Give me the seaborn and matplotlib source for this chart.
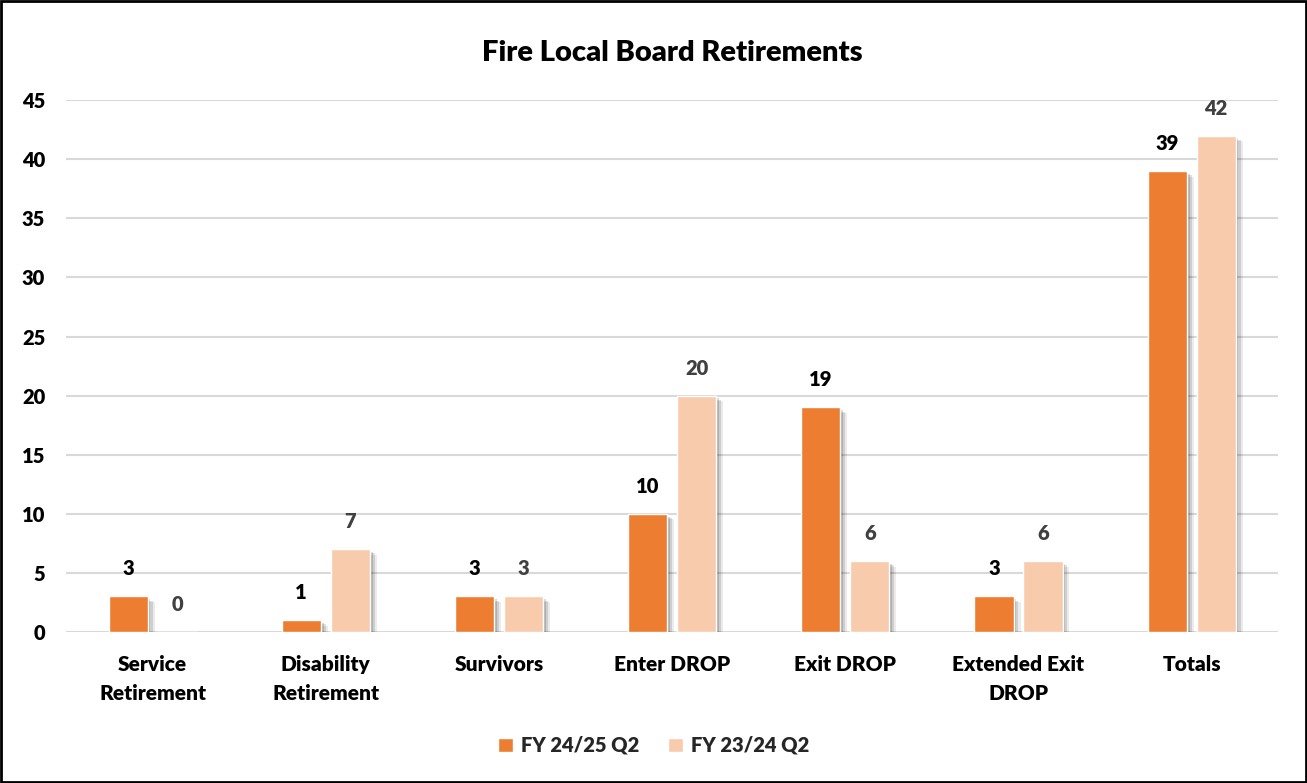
import matplotlib
matplotlib.use("Agg")
import matplotlib.pyplot as plt
import matplotlib.patheffects as pe
import seaborn as sns
import pandas as pd

categories = ["Service\nRetirement", "Disability\nRetirement", "Survivors", "Enter DROP",
              "Exit DROP", "Extended Exit\nDROP", "Totals"]
series_names = ["FY 24/25 Q2", "FY 23/24 Q2"]
fy2425 = [3, 1, 3, 10, 19, 3, 39]
fy2324 = [0, 7, 3, 20, 6, 6, 42]
y_ticks = [0, 5, 10, 15, 20, 25, 30, 35, 40, 45]

colors = ["#ED7D31", "#F8CBAD"]
label_colors = ["#000000", "#404040"]
W = "heavy"

df = pd.DataFrame({
    "category": categories * 2,
    "series": [series_names[0]] * len(categories) + [series_names[1]] * len(categories),
    "value": fy2425 + fy2324,
})

sns.set_theme(style="white")
plt.rcParams["font.family"] = ["Lato", "DejaVu Sans"]
plt.rcParams["font.weight"] = W

fig = plt.figure(figsize=(13.07, 7.83), dpi=100)
ax = fig.add_axes([0.0505, 0.193, 0.9275, 0.679])

sns.barplot(data=df, x="category", y="value", hue="series", order=categories,
            hue_order=series_names, palette=colors, width=0.565, gap=0.2,
            ax=ax, saturation=1, legend=True, zorder=3)

shadow = [pe.SimplePatchShadow(offset=(5, -4), shadow_rgbFace="black", alpha=0.08),
          pe.SimplePatchShadow(offset=(3.5, -3), shadow_rgbFace="black", alpha=0.12),
          pe.SimplePatchShadow(offset=(2, -2), shadow_rgbFace="black", alpha=0.15),
          pe.Normal()]
for p in ax.patches:
    if p.get_height() > 0:
        p.set_path_effects(shadow)

for i, cont in enumerate(ax.containers):
    ax.bar_label(cont, labels=[str(int(v)) for v in (fy2425 if i == 0 else fy2324)],
                 padding=13, fontsize=14.5, fontweight=W, color=label_colors[i])

ax.set_ylim(0, 45)
ax.set_xlim(-0.5, len(categories) - 0.5)
ax.set_yticks(y_ticks)
ax.set_yticklabels([str(t) for t in y_ticks], fontsize=14.5, fontweight=W, color="black")
ax.tick_params(axis="y", length=0, pad=15)
ax.tick_params(axis="x", length=0, pad=17)
for lab in ax.get_xticklabels():
    lab.set_fontsize(15)
    lab.set_fontweight(W)
    lab.set_color("black")
    lab.set_linespacing(1.6)
ax.set_xlabel("")
ax.set_ylabel("")
ax.grid(axis="y", color="#D9D9D9", linewidth=1.5, zorder=0)
ax.set_axisbelow(True)
for s in ax.spines.values():
    s.set_visible(False)

ax.set_title("Fire Local Board Retirements", fontsize=21, fontweight=W, color="black", pad=28)

handles, labels = ax.get_legend_handles_labels()
ax.legend(handles, labels, loc="center", bbox_to_anchor=(0.5, 0.048), bbox_transform=fig.transFigure,
          ncol=2, frameon=False, handlelength=0.75, handleheight=0.75,
          handletextpad=0.4, columnspacing=1.4, prop={"weight": W, "size": 14.5})

fig.patches.append(plt.Rectangle((0.001, 0.001), 0.998, 0.998, transform=fig.transFigure,
                                 fill=False, edgecolor="black", linewidth=2))

fig.savefig("out.png", dpi=100)
